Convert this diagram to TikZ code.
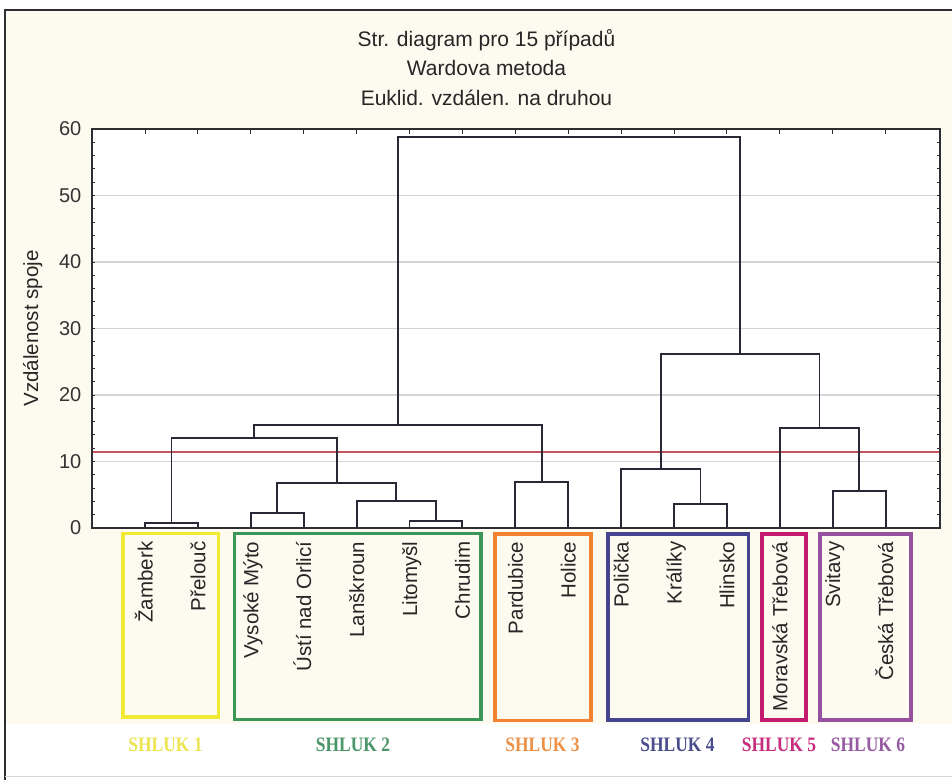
\documentclass[tikz,border=0pt]{standalone}
\usepackage{fontspec}
\setmainfont{Liberation Sans}
\newfontfamily\serifbf{Liberation Serif}
\usetikzlibrary{calc}
\definecolor{cream}{RGB}{253,250,240}
\definecolor{framec}{RGB}{45,45,50}
\definecolor{dendc}{RGB}{40,40,55}
\definecolor{gridc}{RGB}{212,212,212}
\definecolor{redl}{RGB}{195,85,95}
\definecolor{cyel}{RGB}{242,234,50}
\definecolor{cgrn}{RGB}{60,150,88}
\definecolor{corg}{RGB}{240,130,50}
\definecolor{cblu}{RGB}{68,68,145}
\definecolor{cmag}{RGB}{195,28,110}
\definecolor{cpur}{RGB}{150,82,160}
\definecolor{tyel}{RGB}{236,228,80}
\definecolor{tgrn}{RGB}{75,150,105}
\definecolor{torg}{RGB}{236,145,70}
\definecolor{tblu}{RGB}{75,78,140}
\definecolor{tmag}{RGB}{200,45,125}
\definecolor{tpur}{RGB}{150,90,160}
\newcommand\mkjoin[4]{%
  \path ($(#2)!0.5!(#3)$) coordinate (#1tmp);
  \coordinate (#1) at (#1tmp |- 0,#4);
  \draw[dend] (#2) |- (#1) -| (#3);}
\begin{document}
\begin{tikzpicture}[x=1pt,y=-1pt,
  dend/.style={draw=dendc,line width=1.9pt},
  axisl/.style={draw=framec,line width=1.6pt},
  gridl/.style={draw=gridc,line width=1.3pt},
  tickl/.style={draw=framec,line width=1pt},
  clbox/.style={line width=3.6pt},
  titl/.style={font=\fontsize{21}{25}\selectfont,text=black!85,inner sep=0pt,anchor=base},
  ylab/.style={font=\fontsize{20}{24}\selectfont,text=black!80,inner sep=0pt,anchor=east},
  leaflab/.style={font=\fontsize{20.5}{24}\selectfont,text=black!85,inner sep=0pt,rotate=90,anchor=base east},
  shl/.style={font=\serifbf\bfseries\fontsize{20.5}{24}\selectfont,inner sep=0pt,anchor=base}]
\useasboundingbox (0,0) rectangle (952,780);
% backgrounds
\fill[white] (0,0) rectangle (952,780);
\fill[cream] (5,10) rectangle (952,724);
\fill[white] (92,129) rectangle (940,528);
\draw[framec,line width=1.6pt] (5,780) -- (5,10) -- (952,10);
\draw[gray!30,line width=0.8pt] (5,776) -- (952,776);
% titles
\node[titl] (t1) at (486.5,46) {Str. diagram pro 15 případů};
\node[titl] (t2) at (486.5,75.5) {Wardova metoda};
\node[titl] (t3) at (486.5,105) {Euklid. vzdálen. na druhou};
% grid
\foreach \v in {10,20,30,40,50}{
  \draw[gridl] (92,{528-6.65*\v}) -- (940,{528-6.65*\v});
}
% minor ticks
\foreach \k in {1,...,29}{
  \draw[tickl] (92,{528-13.3*\k}) -- (95,{528-13.3*\k});
  \draw[tickl] (940,{528-13.3*\k}) -- (937,{528-13.3*\k});
}
% y tick labels
\foreach \v in {0,10,20,30,40,50,60}{
  \node[ylab] (y\v) at (81.5,{528-6.65*\v}) {\v};
}
\node[font=\fontsize{20.5}{24}\selectfont,text=black!85,inner sep=0pt,rotate=90,anchor=base] (yt) at (38,328.5) {Vzdálenost spoje};
% red cut line
\draw[redl,line width=1.6pt] (92,451.7) -- (940,451.7);
% leaves
\foreach \i in {0,...,14}{
  \coordinate (L\i) at ({145+52.9*\i},528);
  \draw[tickl] ({145+52.9*\i},129) -- ({145+52.9*\i},134);
}
% dendrogram
\mkjoin{A}{L0}{L1}{522.7}
\mkjoin{B}{L2}{L3}{513.3}
\mkjoin{C}{L5}{L6}{520.7}
\mkjoin{D}{L4}{C}{501}
\mkjoin{E}{B}{D}{483.3}
\mkjoin{F}{A}{E}{438.3}
\mkjoin{G}{L7}{L8}{481.7}
\mkjoin{H}{F}{G}{424.7}
\mkjoin{I}{L10}{L11}{504.3}
\mkjoin{J}{L9}{I}{469.3}
\mkjoin{K}{L13}{L14}{490.7}
\mkjoin{M}{L12}{K}{427.7}
\mkjoin{N}{J}{M}{354.3}
\mkjoin{O}{H}{N}{137.3}
% plot frame
\draw[axisl] (92,129) rectangle (940,528);
% leaf labels
\foreach \n [count=\i from 0] in {Žamberk,Přelouč,Vysoké Mýto,Ústí nad Orlicí,Lanškroun,Litomyšl,Chrudim,Pardubice,Holice,Polička,Králíky,Hlinsko,Moravská Třebová,Svitavy,Česká Třebová}{
  \node[leaflab] (n\i) at ({152.5+52.9*\i},541.5) {\n};
}
% cluster boxes
\draw[clbox,cyel] (122.7,533.3) rectangle (218.3,716.7);
\draw[clbox,cgrn] (234.3,533.5) rectangle (481,719.3);
\draw[clbox,corg] (495,534) rectangle (591,720.5);
\draw[clbox,cblu] (607.7,534) rectangle (748.3,720);
\draw[clbox,cmag] (761.7,534) rectangle (806,720);
\draw[clbox,cpur] (820,534) rectangle (911,720);
% cluster labels
\node[shl,text=tyel] (s1) at (165.5,751.7) {\scalebox{0.85}[1]{SHLUK 1}};
\node[shl,text=tgrn] (s2) at (353,751.7) {\scalebox{0.85}[1]{SHLUK 2}};
\node[shl,text=torg] (s3) at (542.5,751.7) {\scalebox{0.85}[1]{SHLUK 3}};
\node[shl,text=tblu] (s4) at (677.5,751.7) {\scalebox{0.85}[1]{SHLUK 4}};
\node[shl,text=tmag] (s5) at (779,751.7) {\scalebox{0.85}[1]{SHLUK 5}};
\node[shl,text=tpur] (s6) at (868,751.7) {\scalebox{0.85}[1]{SHLUK 6}};
\end{tikzpicture}
\end{document}
